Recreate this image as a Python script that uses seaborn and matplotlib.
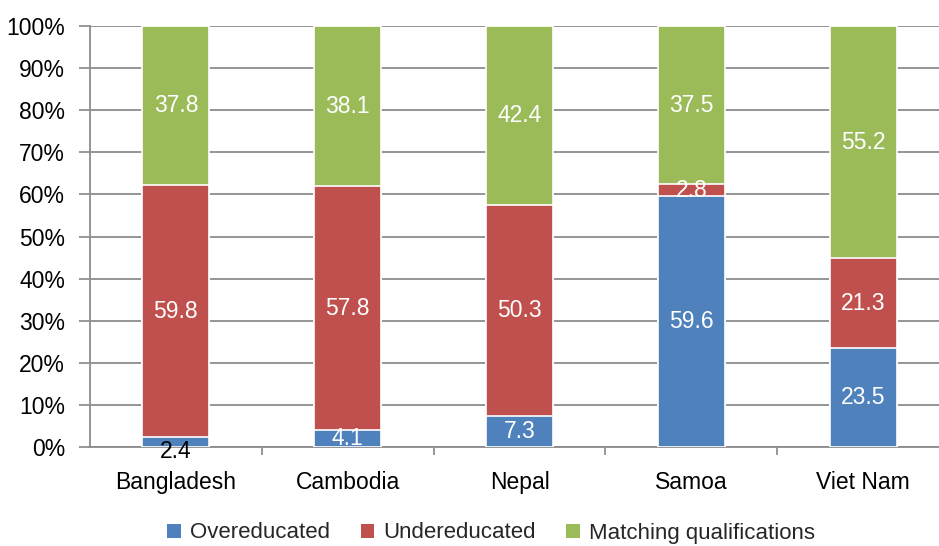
import matplotlib
matplotlib.use("Agg")
import matplotlib.pyplot as plt
import seaborn as sns
import pandas as pd
import numpy as np
from matplotlib.patches import Patch

countries = ["Bangladesh", "Cambodia", "Nepal", "Samoa", "Viet Nam"]
overeducated = [2.4, 4.1, 7.3, 59.6, 23.5]
undereducated = [59.8, 57.8, 50.3, 2.8, 21.3]
matching = [37.8, 38.1, 42.4, 37.5, 55.2]
series_names = ["Overeducated", "Undereducated", "Matching qualifications"]
colors = ["#4F81BD", "#C0504D", "#9BBB59"]
y_ticks = [0, 10, 20, 30, 40, 50, 60, 70, 80, 90, 100]

sns.set_theme(style="white")
plt.rcParams["font.family"] = ["Liberation Sans", "DejaVu Sans"]

df = pd.DataFrame({
    "country": countries,
    "over": overeducated,
    "under": undereducated,
    "match": matching,
})
df["c1"] = df["over"]
df["c2"] = df["over"] + df["under"]
df["c3"] = df["c2"] + df["match"]

fig = plt.figure(figsize=(9.39, 5.46), dpi=100)
ax = fig.add_axes([90 / 939, 1 - 447 / 546, 859 / 939, 421 / 546])

# stacked bars drawn back to front as cumulative totals
for col, color in zip(["c3", "c2", "c1"], colors[::-1]):
    sns.barplot(data=df, x="country", y=col, color=color, width=0.39,
                edgecolor="white", linewidth=1.2, saturation=1, ax=ax,
                zorder=3)

# segment labels
for i, row in df.iterrows():
    segs = [(0, row["over"]), (row["c1"], row["under"]), (row["c2"], row["match"])]
    for j, (base, val) in enumerate(segs):
        yc = base + val / 2
        if val < 3 and j == 0:
            ax.annotate(f"{val:.1f}", (i, yc), xytext=(0, -7),
                        textcoords="offset points", ha="center", va="center",
                        fontsize=16.5, color="black", zorder=5)
        else:
            ax.text(i, yc, f"{val:.1f}", ha="center", va="center",
                    fontsize=16.5, color="white", zorder=5)

ax.set_ylim(0, 100)
ax.set_xlim(-0.5, 4.5)
ax.set_yticks(y_ticks)
ax.set_yticklabels([f"{t}%" for t in y_ticks], fontsize=16.5, color="black")
ax.set_xticks(range(len(countries)))
ax.set_xticklabels(countries, fontsize=16.5, color="black")
ax.set_xticks(np.arange(0.5, len(countries) - 0.5, 1.0), minor=True)
ax.tick_params(axis="x", which="major", length=0, pad=17)
ax.tick_params(axis="x", which="minor", length=6, width=1.2, color="#888888",
               direction="out", bottom=True)
ax.tick_params(axis="y", which="major", length=8, width=1.2, color="#888888",
               direction="out", left=True, pad=10)
ax.set_xlabel("")
ax.set_ylabel("")

ax.yaxis.grid(True, color="#8c8c8c", linewidth=1.3, zorder=0)
ax.set_axisbelow(True)
for s in ["top", "right"]:
    ax.spines[s].set_visible(False)
ax.spines["left"].set_color("#8c8c8c")
ax.spines["left"].set_linewidth(1.3)
ax.spines["bottom"].set_color("#8c8c8c")
ax.spines["bottom"].set_linewidth(1.3)

handles = [Patch(facecolor=c, edgecolor="none") for c in colors]
fig.legend(handles, series_names, loc="center",
           bbox_to_anchor=(491 / 939, 1 - 533 / 546), ncol=3, frameon=False,
           fontsize=16, handlelength=0.6, handleheight=0.6, handletextpad=0.4,
           columnspacing=1.4)

fig.savefig("out.png", dpi=100)
